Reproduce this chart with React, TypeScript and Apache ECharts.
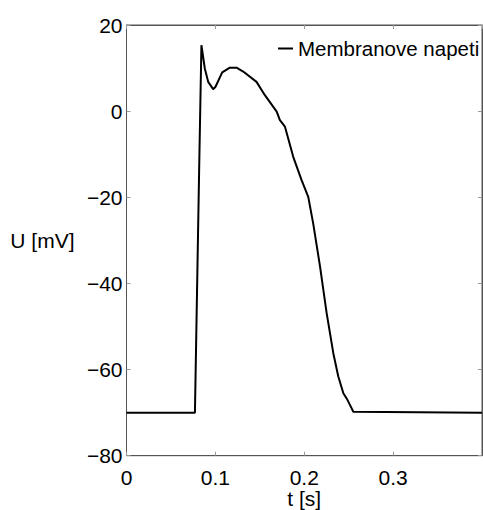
import React, { useEffect, useRef } from "react";
import * as echarts from "echarts";

const timeS = [0, 0.077, 0.0817, 0.0843, 0.0881, 0.0919, 0.0975, 0.1, 0.1077, 0.1163, 0.1238, 0.1313, 0.1463, 0.1557, 0.169, 0.1726, 0.1783, 0.1876, 0.197, 0.2045, 0.21, 0.2177, 0.2252, 0.2327, 0.2383, 0.244, 0.2477, 0.2514, 0.2552, 0.4];
const voltageMV = [-70, -70, -14, 15.3, 9.9, 6.8, 5.1, 5.6, 9.0, 10.1, 10.1, 9.2, 6.8, 3.7, -0.1, -2.1, -3.6, -10.6, -16, -19.9, -26, -36, -46.9, -56.2, -61.6, -65.5, -66.7, -68.2, -69.8, -70];
const seriesName = "Membranove napeti";
const xTickLabels = ["0", "0.1", "0.2", "0.3"];

const FONT = "'Liberation Sans', Arial, sans-serif";
const FS = 21;

export default function App() {
  const ref = useRef<HTMLDivElement>(null);
  useEffect(() => {
    if (!ref.current) return;
    const chart = echarts.init(ref.current, undefined, { renderer: "svg" });
    const data = timeS.map((t, i) => [t, voltageMV[i]]);
    const axisColor = "#555";
    const tickColor = "#999";
    const fmtY = (v: number) => String(v).replace("-", "\u2212");
    chart.setOption({
      animation: false,
      backgroundColor: "#fff",
      grid: {
        left: 126.5,
        top: 25,
        width: 355.5,
        height: 430.7,
        show: true,
        borderColor: axisColor,
        borderWidth: 1,
        containLabel: false,
        outerBoundsMode: "none",
      },
      legend: {
        left: 278,
        top: 38,
        padding: 0,
        icon: "rect",
        itemWidth: 15,
        itemHeight: 2,
        itemGap: 5,
        textStyle: { fontFamily: FONT, fontSize: 20.5, color: "#000" },
        data: [seriesName],
      },
      xAxis: [
        {
          type: "value",
          min: 0,
          max: 0.4,
          interval: 0.1,
          position: "bottom",
          axisLine: { show: true, onZero: false, lineStyle: { color: axisColor } },
          axisTick: { show: true, inside: true, length: 4, lineStyle: { color: tickColor } },
          splitLine: { show: false },
          axisLabel: {
            fontFamily: FONT,
            fontSize: FS,
            color: "#000",
            margin: 11,
            showMaxLabel: false,
            formatter: (v: number) => {
              const i = Math.round(v * 10);
              return xTickLabels[i] ?? "";
            },
          },
          name: "t [s]",
          nameLocation: "middle",
          nameGap: 32,
          nameMoveOverlap: false,
          nameTextStyle: { fontFamily: FONT, fontSize: FS, color: "#000" },
        },
        {
          type: "value",
          min: 0,
          max: 0.4,
          interval: 0.1,
          position: "top",
          axisLine: { show: true, onZero: false, lineStyle: { color: axisColor } },
          axisTick: { show: true, inside: true, length: 4, lineStyle: { color: tickColor } },
          axisLabel: { show: false },
          splitLine: { show: false },
        },
      ],
      yAxis: [
        {
          type: "value",
          min: -80,
          max: 20,
          interval: 20,
          position: "left",
          axisLine: { show: true, onZero: false, lineStyle: { color: axisColor } },
          axisTick: { show: true, inside: true, length: 4, lineStyle: { color: tickColor } },
          splitLine: { show: false },
          axisLabel: { fontFamily: FONT, fontSize: FS, color: "#000", margin: 4, formatter: fmtY },
          name: "U [mV]",
          nameLocation: "middle",
          nameRotate: 0,
          nameGap: 52,
          nameMoveOverlap: false,
          nameTextStyle: { fontFamily: FONT, fontSize: FS, color: "#000", padding: [12, 0, 0, 0] },
        },
        {
          type: "value",
          min: -80,
          max: 20,
          interval: 20,
          position: "right",
          axisLine: { show: true, onZero: false, lineStyle: { color: axisColor } },
          axisTick: { show: true, inside: true, length: 4, lineStyle: { color: tickColor } },
          axisLabel: { show: false },
          splitLine: { show: false },
        },
      ],
      series: [
        {
          name: seriesName,
          type: "line",
          data,
          showSymbol: false,
          symbol: "none",
          lineStyle: { color: "#000", width: 2 },
          itemStyle: { color: "#000" },
        },
      ],
    });
    return () => chart.dispose();
  }, []);
  return <div ref={ref} style={{ position: "fixed", left: 0, top: 0, width: 483, height: 510 }} />;
}
